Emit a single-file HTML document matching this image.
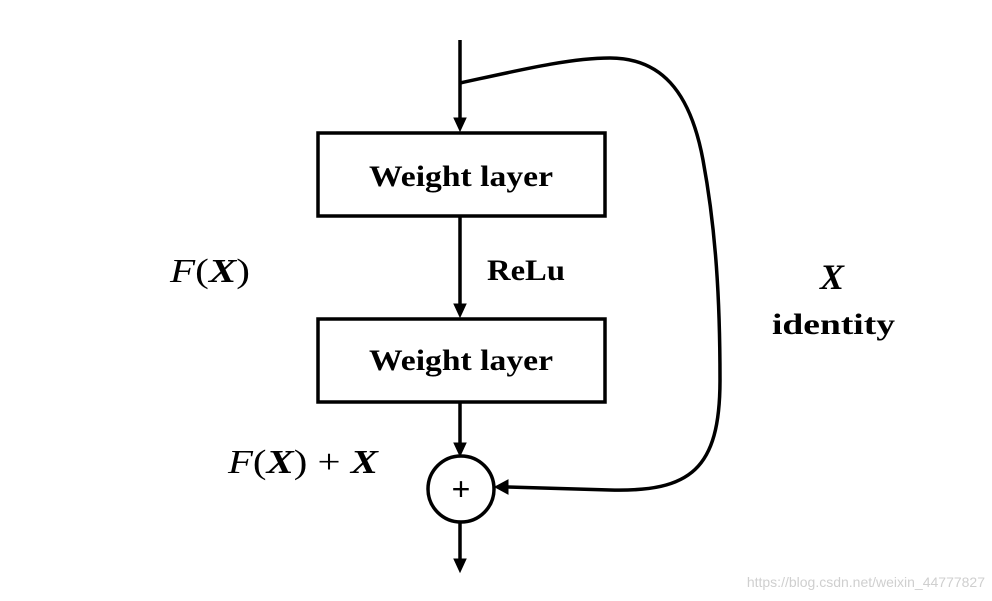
<!DOCTYPE html>
<html><head><meta charset="utf-8"><style>
body{margin:0;background:#fff;}
svg{display:block;}
</style></head><body>
<svg width="992" height="601" viewBox="0 0 992 601" xmlns="http://www.w3.org/2000/svg">
<g stroke="#000" stroke-width="3.5" fill="none">
<line x1="460" y1="40" x2="460" y2="120"/>
<path d="M460,131 l-6,-13 h12 z" fill="#000" stroke-width="1"/>
<rect x="318" y="133" width="287" height="83"/>
<line x1="460" y1="216" x2="460" y2="306"/>
<path d="M460,317 l-6,-13 h12 z" fill="#000" stroke-width="1"/>
<rect x="318" y="319" width="287" height="83"/>
<line x1="460" y1="402" x2="460" y2="445"/>
<path d="M460,456 l-6,-13 h12 z" fill="#000" stroke-width="1"/>
<circle cx="461" cy="489" r="33"/>
<line x1="460" y1="522" x2="460" y2="560"/>
<path d="M460,572 l-6,-13 h12 z" fill="#000" stroke-width="1"/>
<path d="M460,83 C520,70 570,58 610,58 C660,58 690,90 703,160 C716,230 720,300 720,380 C720,470 690,492 610,490 L506,487"/>
<path d="M495,487 l13,-7 v14 z" fill="#000" stroke-width="1"/>
</g>
<g font-family="Liberation Serif, serif" font-weight="bold" font-size="30" fill="#000">
<text x="369" y="186" textLength="184" lengthAdjust="spacingAndGlyphs">Weight layer</text>
<text x="369" y="370" textLength="184" lengthAdjust="spacingAndGlyphs">Weight layer</text>
<text x="487" y="280" textLength="78" lengthAdjust="spacingAndGlyphs">ReLu</text>
<text x="772" y="334" textLength="123" lengthAdjust="spacingAndGlyphs">identity</text>
</g>
<g font-family="Liberation Serif, serif" font-size="34" fill="#000">
<text x="170" y="282" textLength="80" lengthAdjust="spacingAndGlyphs"><tspan font-style="italic">F</tspan>(<tspan font-style="italic" font-weight="bold">X</tspan>)</text>
<text x="228" y="473" textLength="150" lengthAdjust="spacingAndGlyphs"><tspan font-style="italic">F</tspan>(<tspan font-style="italic" font-weight="bold">X</tspan>) + <tspan font-style="italic" font-weight="bold">X</tspan></text>
<text x="832" y="289" text-anchor="middle" font-style="italic" font-weight="bold" font-size="36">X</text>
<text x="461" y="500" text-anchor="middle" font-family="Liberation Sans, sans-serif" font-size="32">+</text>
</g>
<text x="985" y="587" text-anchor="end" font-family="Liberation Sans, sans-serif" font-size="14" fill="#cfcfcf">https://blog.csdn.net/weixin_44777827</text>
</svg>
</body></html>
